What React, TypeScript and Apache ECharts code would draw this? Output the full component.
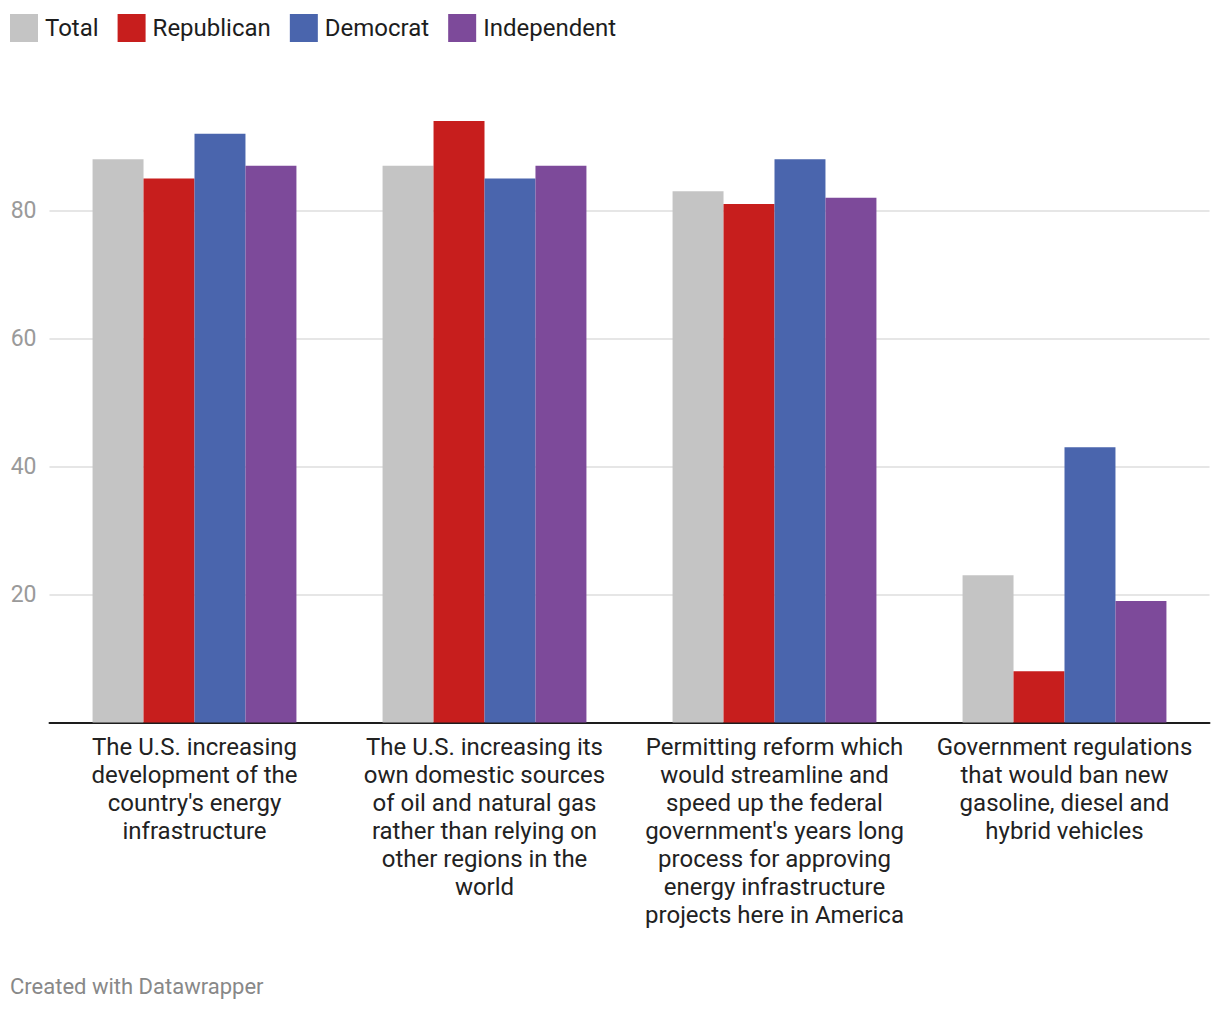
import React, { useEffect, useRef } from "react";
import * as echarts from "echarts";

const categories = [
  "The U.S. increasing\ndevelopment of the\ncountry's energy\ninfrastructure",
  "The U.S. increasing its\nown domestic sources\nof oil and natural gas\nrather than relying on\nother regions in the\nworld",
  "Permitting reform which\nwould streamline and\nspeed up the federal\ngovernment's years long\nprocess for approving\nenergy infrastructure\nprojects here in America",
  "Government regulations\nthat would ban new\ngasoline, diesel and\nhybrid vehicles",
];

const seriesNames = ["Total", "Republican", "Democrat", "Independent"];
const total = [88, 87, 83, 23];
const republican = [85, 94, 81, 8];
const democrat = [92, 85, 88, 43];
const independent = [87, 87, 82, 19];
const colors = ["#c4c4c4", "#c71e1d", "#4a65ad", "#7d4a9a"];
const yTicks = [0, 20, 40, 60, 80, 100];

const FONT = "Roboto, 'Noto Sans', sans-serif";

export default function App() {
  const ref = useRef<HTMLDivElement>(null);
  useEffect(() => {
    document.body.style.margin = "0";
    if (!ref.current) return;
    const chart = echarts.init(ref.current, undefined, { renderer: "svg" });
    const values = [total, republican, democrat, independent];
    chart.setOption({
      animation: false,
      backgroundColor: "#ffffff",
      textStyle: { fontFamily: FONT },
      legend: {
        left: 10,
        top: 14,
        padding: 0,
        itemWidth: 28,
        itemHeight: 28,
        itemGap: 19,
        icon: "rect",
        textStyle: { fontSize: 24, color: "#1d1d1d", fontFamily: FONT, padding: [0, 0, 0, 2] },
        data: seriesNames,
      },
      grid: { left: 49.5, right: 10.5, top: 82.5, bottom: 289.5, containLabel: false },
      xAxis: {
        type: "category",
        data: categories,
        axisLine: { show: true, lineStyle: { color: "#1d1d1d", width: 2 } },
        axisTick: { show: false },
        axisLabel: {
          interval: 0,
          margin: 10,
          fontSize: 24,
          lineHeight: 28,
          color: "#222222",
          fontFamily: FONT,
          align: "center",
        },
      },
      yAxis: {
        type: "value",
        min: yTicks[0],
        max: yTicks[yTicks.length - 1],
        interval: 20,
        axisLine: { show: false },
        axisTick: { show: false },
        splitLine: {
          show: true,
          showMinLine: false,
          showMaxLine: false,
          lineStyle: { color: "#e6e6e6", width: 2 },
        },
        axisLabel: {
          showMinLabel: false,
          showMaxLabel: false,
          margin: 13,
          fontSize: 23,
          color: "#9a9a9a",
          fontFamily: FONT,
        },
      },
      series: seriesNames.map((name, i) => ({
        name,
        type: "bar",
        data: values[i],
        barGap: "0%",
        barCategoryGap: "29.7%",
        itemStyle: { color: colors[i] },
      })),
      graphic: [
        {
          type: "text",
          left: 10,
          top: 975,
          style: {
            text: "Created with Datawrapper",
            fontSize: 22,
            fill: "#888888",
            fontFamily: FONT,
          },
        },
      ],
    });
    return () => chart.dispose();
  }, []);
  return <div ref={ref} style={{ width: 1220, height: 1012 }} />;
}
